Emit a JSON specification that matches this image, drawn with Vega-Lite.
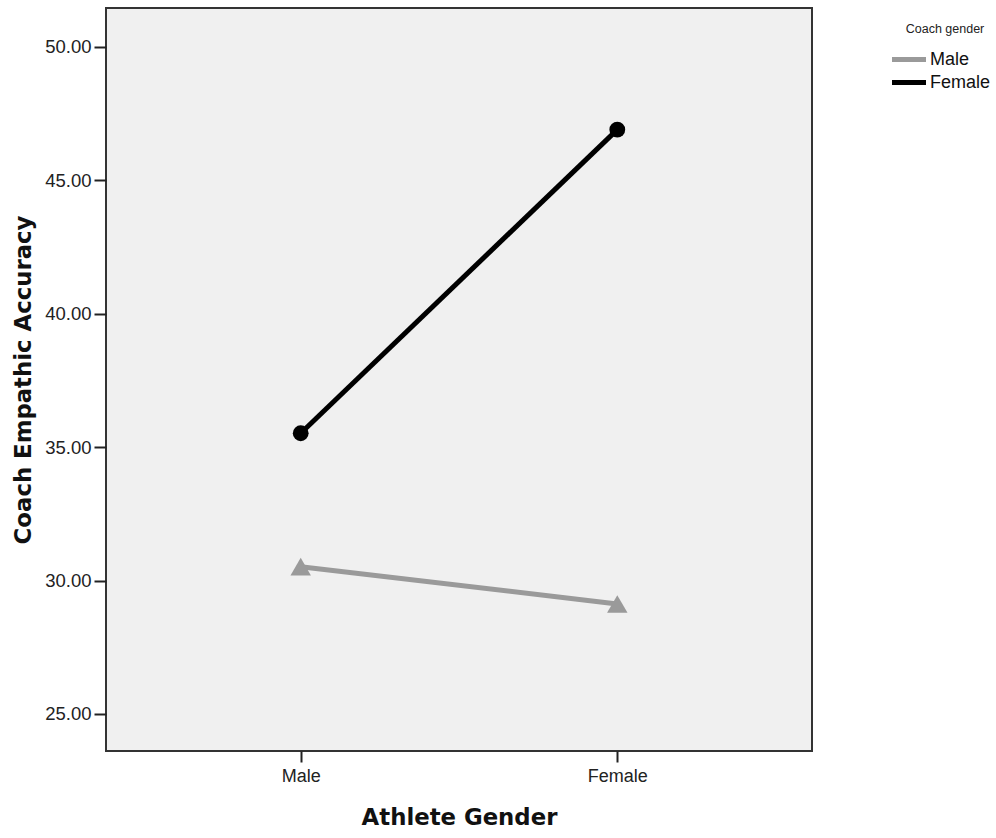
{
  "$schema": "https://vega.github.io/schema/vega-lite/v6.json",
  "width": 706,
  "height": 743,
  "autosize": "none",
  "padding": {"left": 106, "top": 8, "right": 184, "bottom": 87},
  "background": "white",
  "config": {
    "view": {"fill": "#f0f0f0", "stroke": "#333333", "strokeWidth": 2},
    "font": "Liberation Sans"
  },
  "data": {
    "values": [
      {"athlete": "Male", "coach": "Male", "accuracy": 30.52},
      {"athlete": "Female", "coach": "Male", "accuracy": 29.12},
      {"athlete": "Male", "coach": "Female", "accuracy": 35.52},
      {"athlete": "Female", "coach": "Female", "accuracy": 46.9}
    ]
  },
  "encoding": {
    "x": {
      "field": "athlete",
      "type": "nominal",
      "sort": ["Male", "Female"],
      "scale": {"type": "point", "padding": 0.615},
      "axis": {
        "title": "Athlete Gender",
        "titleFont": "DejaVu Sans",
        "titleFontSize": 22.8,
        "titleFontWeight": "bold",
        "titleColor": "#111",
        "titlePadding": 21,
        "labelAngle": 0,
        "labelFontSize": 18,
        "labelColor": "#222",
        "labelPadding": 5,
        "tickColor": "#222",
        "tickWidth": 2,
        "tickSize": 11,
        "domain": false,
        "grid": false
      }
    },
    "y": {
      "field": "accuracy",
      "type": "quantitative",
      "scale": {"domain": [23.61, 51.46], "nice": false, "zero": false},
      "axis": {
        "title": "Coach Empathic Accuracy",
        "titleFont": "DejaVu Sans",
        "titleFontSize": 22.8,
        "titleFontWeight": "bold",
        "titleColor": "#111",
        "titlePadding": 9,
        "values": [25, 30, 35, 40, 45, 50],
        "format": ".2f",
        "labelFontSize": 18.5,
        "labelColor": "#222",
        "labelPadding": 3,
        "tickColor": "#222",
        "tickWidth": 2,
        "tickSize": 12,
        "domain": false,
        "grid": false
      }
    }
  },
  "layer": [
    {
      "mark": {"type": "line", "strokeWidth": 5},
      "encoding": {
        "color": {
          "field": "coach",
          "type": "nominal",
          "scale": {"domain": ["Male", "Female"], "range": ["#9a9a9a", "#000000"]},
          "legend": {
            "title": "Coach gender",
            "orient": "none",
            "legendX": 794,
            "legendY": 15,
            "titleFontSize": 12.5,
            "titleFontWeight": "normal",
            "titleColor": "#222",
            "titleAnchor": "middle",
            "titlePadding": 15,
            "labelFontSize": 18,
            "labelColor": "#111",
            "labelOffset": 12,
            "symbolType": "M-3.4,0H3.4",
            "symbolStrokeWidth": 5,
            "symbolSize": 100,
            "rowPadding": 3
          }
        }
      }
    },
    {
      "mark": {"type": "point", "filled": true, "opacity": 1},
      "encoding": {
        "color": {
          "field": "coach",
          "type": "nominal",
          "scale": {"domain": ["Male", "Female"], "range": ["#9a9a9a", "#000000"]},
          "legend": null
        },
        "shape": {
          "field": "coach",
          "type": "nominal",
          "scale": {"domain": ["Male", "Female"], "range": ["triangle-up", "circle"]},
          "legend": null
        },
        "size": {
          "field": "coach",
          "type": "nominal",
          "scale": {"domain": ["Male", "Female"], "range": [420, 250]},
          "legend": null
        }
      }
    }
  ],
  "resolve": {"legend": {"color": "independent", "shape": "independent", "size": "independent"}}
}
